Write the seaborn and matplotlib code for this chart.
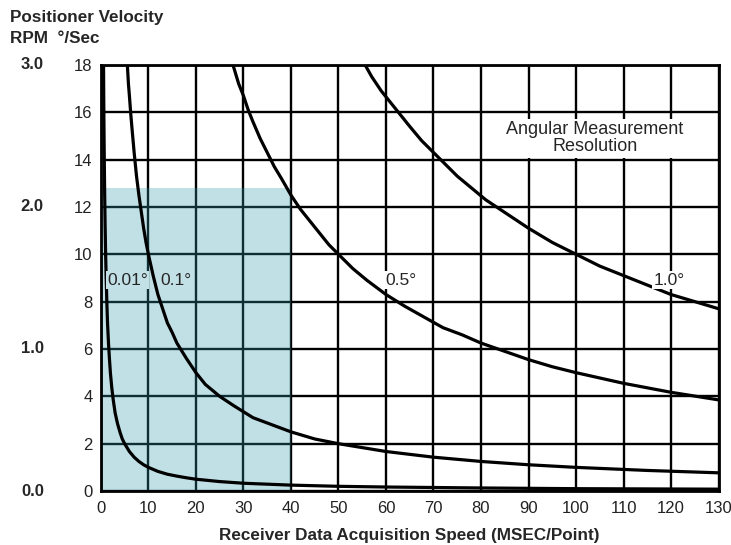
import numpy as np
import pandas as pd
import seaborn as sns
import matplotlib.pyplot as plt

# curve values (deg/sec vs msec/point)
x_001 = [0.56, 0.6, 0.65, 0.7, 0.8, 0.9, 1, 1.1, 1.25, 1.4, 1.6, 1.8, 2, 2.3, 2.6, 3, 3.5, 4, 4.5, 5,
         6, 7, 8, 9, 10, 12, 14, 16, 18, 20, 25, 30, 40, 50, 60, 80, 100, 130]
y_001 = [18, 16.7, 15.4, 14.3, 12.5, 11.1, 10, 9.1, 8, 7.1, 6.25, 5.6, 5, 4.35, 3.85, 3.3, 2.85, 2.5, 2.2, 2,
         1.67, 1.43, 1.25, 1.11, 1, 0.83, 0.71, 0.63, 0.56, 0.5, 0.4, 0.33, 0.25, 0.2, 0.17, 0.13, 0.1, 0.08]

x_01 = [5.6, 5.8, 6, 6.3, 6.6, 7, 7.5, 8, 8.5, 9, 9.5, 10, 11, 12, 13, 14, 15, 16, 18, 20, 22, 25, 28,
        32, 36, 40, 45, 50, 60, 70, 80, 90, 100, 115, 130]
y_01 = [17.9, 17.2, 16.7, 15.9, 15.2, 14.3, 13.3, 12.5, 11.8, 11.1, 10.5, 10, 9.1, 8.3, 7.7, 7.1, 6.7,
        6.25, 5.6, 5, 4.5, 4, 3.6, 3.1, 2.8, 2.5, 2.2, 2, 1.67, 1.43, 1.25, 1.11, 1, 0.87, 0.77]

x_05 = [27.8, 29, 30, 31, 32, 33.5, 35, 36.5, 38, 40, 42, 44, 46, 48, 50, 53, 56, 60, 64, 68, 72, 76,
        80, 85, 90, 95, 100, 110, 120, 130]
y_05 = [18, 17.2, 16.7, 16.1, 15.6, 14.9, 14.3, 13.7, 13.2, 12.5, 11.9, 11.4, 10.9, 10.4, 10, 9.4, 8.9,
        8.3, 7.8, 7.35, 6.9, 6.6, 6.25, 5.9, 5.55, 5.25, 5, 4.55, 4.17, 3.85]

x_10 = [55.6, 57, 59, 61, 63, 65, 67.5, 70, 72.5, 75, 78, 81, 84, 87, 90, 95, 100, 105, 110, 115,
        120, 125, 130]
y_10 = [18, 17.5, 16.9, 16.4, 15.9, 15.4, 14.8, 14.3, 13.8, 13.3, 12.8, 12.3, 11.9, 11.5, 11.1, 10.5,
        10, 9.5, 9.1, 8.7, 8.3, 8.0, 7.7]

curve_labels = ['0.01°', '0.1°', '0.5°', '1.0°']
rpm_labels = ['0.0', '1.0', '2.0', '3.0']
rpm_pos = [0, 6, 12, 18]

x_ticks = list(range(0, 131, 10))
y_ticks = list(range(0, 19, 2))

# shaded operating region (translucent so the grid shows through)
shade_x = 40
shade_y = 12.8
shade_fill = '#349baf'
shade_color = '#c2e1e7'

sns.set_style('white')
plt.rcParams['font.family'] = ['Liberation Sans', 'DejaVu Sans']

fig = plt.figure(figsize=(7.31, 5.45), dpi=100)
ax = fig.add_axes([0.138, 0.099, 0.845, 0.782])

for t in x_ticks:
    ax.axvline(t, color='black', lw=1.7, zorder=2)
for t in y_ticks:
    ax.axhline(t, color='black', lw=1.7, zorder=2)

ax.fill_between([0, shade_x], 0, shade_y, color=shade_fill, alpha=0.3, lw=0, zorder=2.5)

frames = []
for xs, ys, lab in zip([x_001, x_01, x_05, x_10], [y_001, y_01, y_05, y_10], curve_labels):
    frames.append(pd.DataFrame({'x': xs, 'y': ys, 'res': lab}))
df = pd.concat(frames)

sns.lineplot(data=df, x='x', y='y', units='res', estimator=None, sort=False,
             color='black', lw=2.3, ax=ax, legend=False, zorder=3)

ax.set_xlim(0, 130)
ax.set_ylim(0, 18)
ax.set_xticks(x_ticks)
ax.set_yticks(y_ticks)
for s in ax.spines.values():
    s.set_color('black')
    s.set_linewidth(2)
    s.set_zorder(3)
ax.tick_params(length=0, labelsize=12, colors='#222222')
ax.tick_params(axis='y', pad=6)
ax.tick_params(axis='x', pad=7)
ax.set_xlabel('Receiver Data Acquisition Speed (MSEC/Point)', fontsize=12.3,
              fontweight='bold', labelpad=9)
ax.set_ylabel('')

# curve labels
lab_kw = dict(fontsize=12.5, va='center', zorder=4)
ax.text(1.3, 8.9, curve_labels[0],
        bbox=dict(facecolor=shade_color, edgecolor='none', pad=1), **lab_kw)
ax.text(12.6, 8.9, curve_labels[1],
        bbox=dict(facecolor=shade_color, edgecolor='none', pad=1), **lab_kw)
ax.text(59.8, 8.9, curve_labels[2],
        bbox=dict(facecolor='white', edgecolor='none', pad=1), **lab_kw)
ax.text(116.3, 8.9, curve_labels[3],
        bbox=dict(facecolor='white', edgecolor='none', pad=1), **lab_kw)
ax.text(104, 14.9, 'Angular Measurement\nResolution', fontsize=13, ha='center',
        va='center', linespacing=1.0, zorder=4,
        bbox=dict(facecolor='white', edgecolor='none', pad=2))

# RPM scale on the left
for p, lab in zip(rpm_pos, rpm_labels):
    ax.text(-12, p, lab, fontsize=12, fontweight='bold', ha='right', va='center',
            transform=ax.transData, clip_on=False)

fig.text(0.014, 0.967, 'Positioner Velocity', fontsize=12.3, fontweight='bold', va='center')
fig.text(0.014, 0.930, 'RPM  °/Sec', fontsize=12.3, fontweight='bold', va='center')

plt.savefig('out.png', dpi=100)
